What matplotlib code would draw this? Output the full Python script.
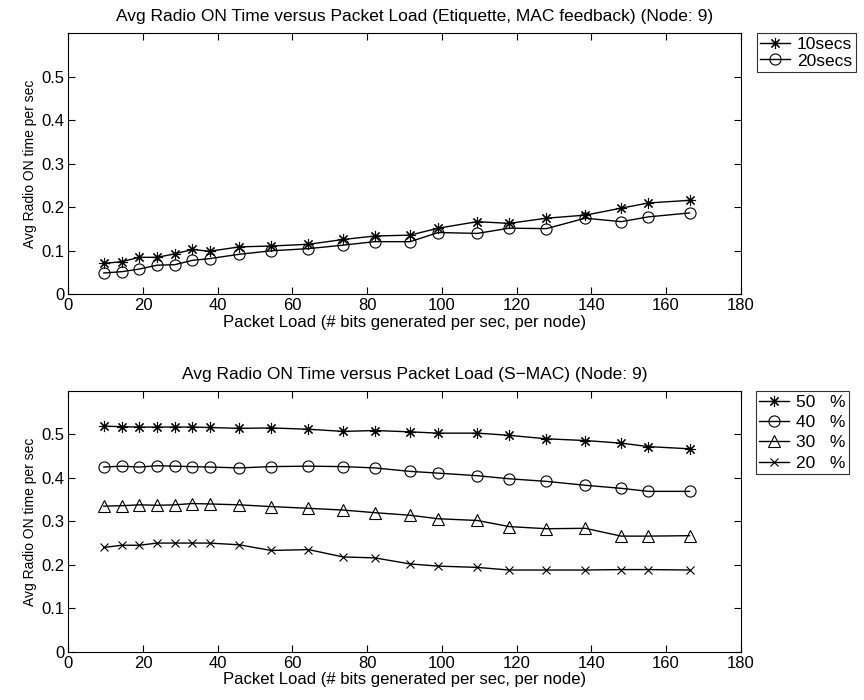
import numpy as np
import matplotlib.pyplot as plt

plt.rcParams['font.family'] = ['Liberation Sans', 'DejaVu Sans']

# packet load (bits per sec, per node)
load = [9.5, 14.3, 19.0, 23.8, 28.5, 33.2, 37.8, 45.8, 54.3, 64.3, 73.6,
        82.0, 91.5, 99.0, 109.5, 118.0, 128.0, 138.4, 148.0, 155.3, 166.3]

# Etiquette, MAC feedback
etq_10 = [0.071, 0.075, 0.085, 0.085, 0.093, 0.103, 0.099, 0.109, 0.111, 0.115, 0.126,
          0.134, 0.136, 0.152, 0.167, 0.163, 0.175, 0.182, 0.198, 0.210, 0.216]
etq_20 = [0.049, 0.052, 0.058, 0.067, 0.068, 0.078, 0.082, 0.092, 0.100, 0.105, 0.113,
          0.121, 0.121, 0.142, 0.140, 0.152, 0.151, 0.175, 0.167, 0.178, 0.187]

# S-MAC duty cycles
smac_50 = [0.519, 0.518, 0.517, 0.517, 0.517, 0.517, 0.516, 0.514, 0.515, 0.512, 0.507,
           0.509, 0.506, 0.503, 0.503, 0.498, 0.490, 0.486, 0.480, 0.472, 0.467]
smac_40 = [0.425, 0.427, 0.425, 0.428, 0.427, 0.426, 0.425, 0.423, 0.426, 0.427, 0.426,
           0.423, 0.415, 0.411, 0.405, 0.398, 0.392, 0.383, 0.376, 0.369, 0.369]
smac_30 = [0.335, 0.336, 0.338, 0.337, 0.338, 0.341, 0.340, 0.338, 0.334, 0.330, 0.326,
           0.320, 0.314, 0.306, 0.302, 0.288, 0.283, 0.284, 0.266, 0.266, 0.267]
smac_20 = [0.240, 0.245, 0.245, 0.250, 0.250, 0.250, 0.250, 0.246, 0.233, 0.235, 0.218,
           0.216, 0.202, 0.197, 0.194, 0.188, 0.188, 0.188, 0.189, 0.189, 0.188]

W, H = 864, 700
fig = plt.figure(figsize=(W / 100, H / 100), dpi=100)
ax1 = fig.add_axes([68.3 / W, 1 - 294.3 / H, 672.4 / W, 261 / H])
ax2 = fig.add_axes([68.3 / W, 1 - 651.7 / H, 672.4 / W, 260.7 / H])

star = (8, 2, 0)   # matlab style asterisk
mk = dict(color='black', lw=1.0, markersize=8, markerfacecolor='none',
          markeredgecolor='black', markeredgewidth=0.8)

ax1.plot(load, etq_10, marker=star, label='10secs', **mk)
ax1.plot(load, etq_20, marker='o', label='20secs', **mk)
ax1.set_title('Avg Radio ON Time versus Packet Load (Etiquette, MAC feedback) (Node: 9)',
              fontsize=12.5, pad=9, x=0.515)

ax2.plot(load, smac_50, marker=star, label='50   %', **mk)
ax2.plot(load, smac_40, marker='o', label='40   %', **mk)
ax2.plot(load, smac_30, marker='^', label='30   %', **mk)
ax2.plot(load, smac_20, marker='x', label='20   %', **{**mk, 'markersize': 6})
ax2.set_title('Avg Radio ON Time versus Packet Load (S\u2212MAC) (Node: 9)',
              fontsize=12.5, pad=9, x=0.515)

leg_pos = {ax1: (757 / W, 1 - 33 / H), ax2: (756 / W, 1 - 391 / H)}
leg_space = {ax1: 0.1, ax2: 0.3}
for ax in (ax1, ax2):
    ax.set_xlim(0, 180)
    ax.set_ylim(0, 0.6)
    ax.set_xticks(np.arange(0, 181, 20))
    ax.set_yticks([0, 0.1, 0.2, 0.3, 0.4, 0.5])
    ax.set_yticklabels(['0', '0.1', '0.2', '0.3', '0.4', '0.5'])
    ax.tick_params(direction='in', top=True, right=True, labelsize=12, length=5, pad=3)
    ax.set_xlabel('Packet Load (# bits generated per sec, per node)', fontsize=12, labelpad=1)
    ax.set_ylabel('Avg Radio ON time per sec', fontsize=10, labelpad=3)
    leg = ax.legend(loc='upper left', bbox_to_anchor=leg_pos[ax], bbox_transform=fig.transFigure,
                    fontsize=12.5, frameon=True, fancybox=False, edgecolor='black',
                    handlelength=1.7, borderpad=0.2, labelspacing=leg_space[ax],
                    handletextpad=0.4, borderaxespad=0)
    leg.get_frame().set_linewidth(0.8)

fig.savefig('out.png', dpi=100)
